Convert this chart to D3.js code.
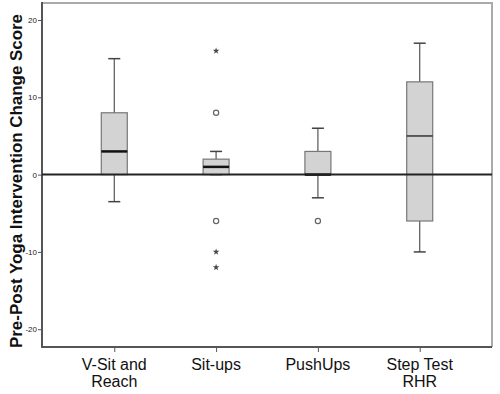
<!DOCTYPE html>
<html>
<head>
<meta charset="utf-8">
<script src="https://cdn.jsdelivr.net/npm/d3@7"></script>
<style>
  body { margin: 0; background: #fff; }
  svg { display: block; font-family: "Liberation Sans", Arial, sans-serif; }
</style>
</head>
<body>
<div id="chart"></div>
<script>
// categories and box statistics
var categories = ["V-Sit and Reach", "Sit-ups", "PushUps", "Step Test RHR"];
var labelLines = [["V-Sit and", "Reach"], ["Sit-ups"], ["PushUps"], ["Step Test", "RHR"]];
var whiskerLow = [-3.5, 0, -3, -10];
var q1 = [0, 0, 0, -6];
var medians = [3, 1, 0, 5];
var q3 = [8, 2, 3, 12];
var whiskerHigh = [15, 3, 6, 17];
// outliers: [category index, value, kind]
var outliers = [
    [1, 16, "star"], [1, 8, "circle"], [1, -6, "circle"], [1, -10, "star"], [1, -12, "star"],
    [2, -6, "circle"]
];
var yTicks = [-20, -10, 0, 10, 20];

function draw() {
    var w = 500, h = 394;
    var left = 42, right = 492, top = 3, bottom = 347;

    var svg = d3.select("#chart").append("svg")
                .attr("width", w)
                .attr("height", h);

    var x = d3.scalePoint()
              .domain(categories)
              .range([left, right])
              .padding(0.71);

    var y = d3.scaleLinear()
              .domain([-22.3, 22.2])
              .range([bottom, top]);

    // frame: light top/right, darker left/bottom
    svg.append("path")
       .attr("d", `M${left},${top}H${right}V${bottom}`)
       .attr("fill", "none")
       .attr("stroke", "#aaa")
       .attr("stroke-width", 2);

    // y axis (plain hyphen for negatives, like the original)
    var yAxis = svg.append("g")
                   .attr("transform", `translate(${left},0)`)
                   .call(d3.axisLeft(y).tickValues(yTicks).tickSize(4).tickPadding(1)
                           .tickFormat(d => String(d)));
    yAxis.select(".domain").remove();
    yAxis.selectAll("line").attr("stroke", "#555");
    yAxis.selectAll("text").attr("font-size", 8).attr("fill", "#222");

    // x axis ticks
    var xAxis = svg.append("g")
                   .attr("transform", `translate(0,${bottom})`)
                   .call(d3.axisBottom(x).tickSize(5).tickFormat(""));
    xAxis.select(".domain").remove();
    xAxis.selectAll("line").attr("stroke", "#555");

    svg.append("path")
       .attr("d", `M${left},${top - 1}V${bottom}H${right}`)
       .attr("fill", "none")
       .attr("stroke", "#555")
       .attr("stroke-width", 2);

    // category labels
    var labels = svg.append("g")
                    .selectAll("text")
                    .data(categories)
                    .enter()
                    .append("text")
                    .attr("x", d => x(d))
                    .attr("y", 370)
                    .attr("text-anchor", "middle")
                    .attr("font-size", 16)
                    .attr("fill", "#111");
    labels.each(function(d, i) {
        d3.select(this).selectAll("tspan")
          .data(labelLines[i])
          .enter()
          .append("tspan")
          .attr("x", x(d))
          .attr("dy", (t, j) => j === 0 ? 0 : 17)
          .text(t => t);
    });

    // y title
    svg.append("text")
       .attr("transform", "translate(22,181) rotate(-90)")
       .attr("text-anchor", "middle")
       .attr("font-size", 17)
       .attr("font-weight", "bold")
       .attr("fill", "#111")
       .attr("textLength", 334)
       .attr("lengthAdjust", "spacingAndGlyphs")
       .text("Pre-Post Yoga Intervention Change Score");

    var boxW = 26, capW = 12;
    var boxes = svg.append("g")
                   .selectAll("g")
                   .data(categories)
                   .enter()
                   .append("g");

    // whiskers
    boxes.append("line")
         .attr("x1", d => x(d)).attr("x2", d => x(d))
         .attr("y1", (d, i) => y(whiskerLow[i]))
         .attr("y2", (d, i) => y(whiskerHigh[i]))
         .attr("stroke", "#555")
         .attr("stroke-width", 1.2);
    boxes.append("line")
         .attr("x1", d => x(d) - capW / 2).attr("x2", d => x(d) + capW / 2)
         .attr("y1", (d, i) => y(whiskerHigh[i])).attr("y2", (d, i) => y(whiskerHigh[i]))
         .attr("stroke", "#444")
         .attr("stroke-width", 1.5);
    boxes.append("line")
         .attr("x1", d => x(d) - capW / 2).attr("x2", d => x(d) + capW / 2)
         .attr("y1", (d, i) => y(whiskerLow[i])).attr("y2", (d, i) => y(whiskerLow[i]))
         .attr("stroke", "#444")
         .attr("stroke-width", 1.5);

    // boxes
    boxes.append("rect")
         .attr("x", d => x(d) - boxW / 2)
         .attr("width", boxW)
         .attr("y", (d, i) => y(q3[i]))
         .attr("height", (d, i) => y(q1[i]) - y(q3[i]))
         .attr("fill", "#d3d3d3")
         .attr("stroke", "#777")
         .attr("stroke-width", 1.2);

    // medians
    boxes.append("line")
         .attr("x1", d => x(d) - boxW / 2).attr("x2", d => x(d) + boxW / 2)
         .attr("y1", (d, i) => y(medians[i])).attr("y2", (d, i) => y(medians[i]))
         .attr("stroke", (d, i) => i === 3 ? "#333" : "#111")
         .attr("stroke-width", (d, i) => i === 3 ? 1.5 : 2.5);

    // zero reference line
    svg.append("line")
       .attr("x1", left).attr("x2", right)
       .attr("y1", y(0)).attr("y2", y(0))
       .attr("stroke", "#222")
       .attr("stroke-width", 2);

    // outliers
    var pts = svg.append("g");
    pts.selectAll("circle")
       .data(outliers.filter(o => o[2] === "circle"))
       .enter()
       .append("circle")
       .attr("cx", d => x(categories[d[0]]))
       .attr("cy", d => y(d[1]))
       .attr("r", 2.6)
       .attr("fill", "none")
       .attr("stroke", "#666")
       .attr("stroke-width", 1.2);
    pts.selectAll("path")
       .data(outliers.filter(o => o[2] === "star"))
       .enter()
       .append("path")
       .attr("transform", d => `translate(${x(categories[d[0]])},${y(d[1])})`)
       .attr("d", d3.symbol().type(d3.symbolStar).size(14))
       .attr("fill", "#444");
}

window.onload = draw;
</script>
</body>
</html>
